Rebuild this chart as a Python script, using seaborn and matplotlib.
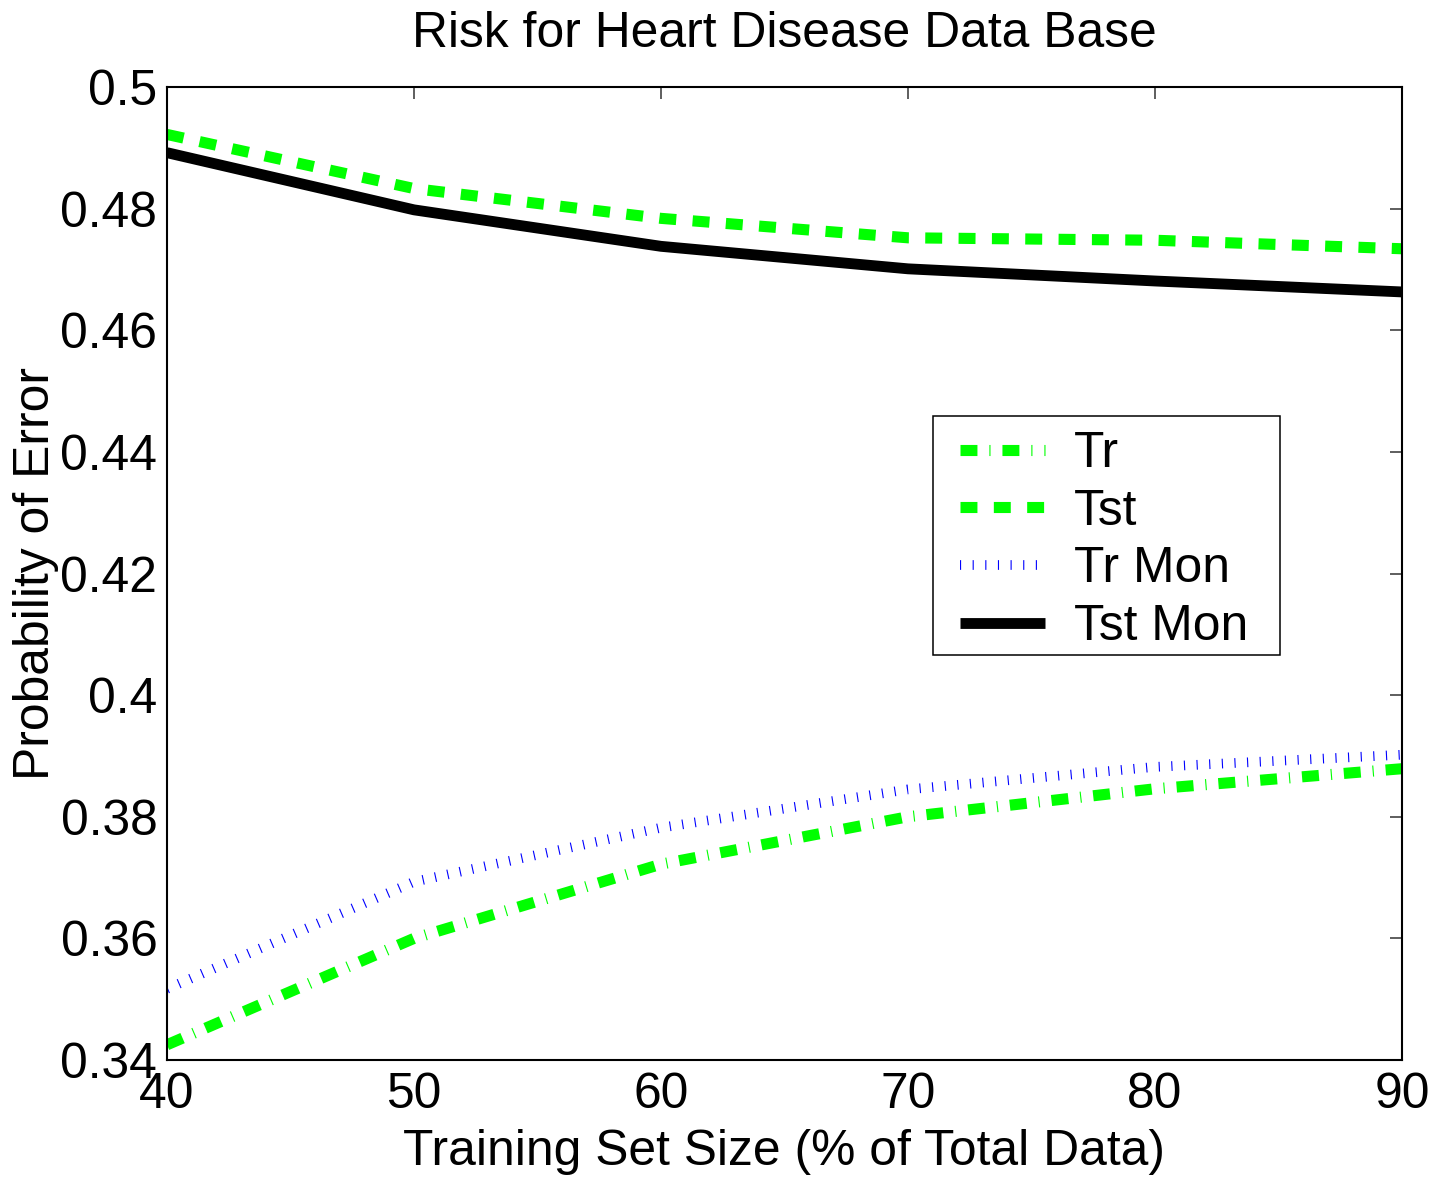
import matplotlib
matplotlib.use("Agg")
import matplotlib.pyplot as plt
from matplotlib.patches import Rectangle
import seaborn as sns
import pandas as pd

# ---- data ----
train_size = [40, 50, 60, 70, 80, 90]
tr = [0.3425, 0.3600, 0.3722, 0.3800, 0.3846, 0.3879]
tst = [0.4922, 0.4833, 0.4784, 0.4752, 0.4748, 0.4734]
tr_mon = [0.3517, 0.3693, 0.3782, 0.3845, 0.3882, 0.3902]
tst_mon = [0.4892, 0.4798, 0.4738, 0.4701, 0.4681, 0.4663]
series_names = ["Tr", "Tst", "Tr Mon", "Tst Mon"]
x_ticks = [40, 50, 60, 70, 80, 90]
y_ticks = [0.34, 0.36, 0.38, 0.40, 0.42, 0.44, 0.46, 0.48, 0.50]
y_tick_labels = ["0.34", "0.36", "0.38", "0.4", "0.42", "0.44", "0.46", "0.48", "0.5"]

sns.set_theme(style="white")
plt.rcParams["font.family"] = ["Liberation Sans", "DejaVu Sans"]
plt.rcParams["lines.scale_dashes"] = False
plt.rcParams["lines.dash_capstyle"] = "butt"
plt.rcParams["lines.solid_capstyle"] = "butt"

FS = 35.8
W, H = 1447, 1177
fig = plt.figure(figsize=(W / 100, H / 100), dpi=100)
L, R, T, B = 167, 1402, 87, 1060
ax = fig.add_axes([L / W, 1 - B / H, (R - L) / W, (B - T) / H])

df = pd.DataFrame({"size": train_size, "Tr": tr, "Tst": tst,
                   "Tr Mon": tr_mon, "Tst Mon": tst_mon})

styles = {
    "Tr": dict(color="#00ff00", linewidth=8.0, linestyle=(0, (12.2, 8.6, 0.8, 8.6))),
    "Tst": dict(color="#00ff00", linewidth=8.0, linestyle=(0, (12.2, 11.8))),
    "Tr Mon": dict(color="#0000ff", linewidth=7.0, linestyle=(0, (0.8, 8.3))),
    "Tst Mon": dict(color="black", linewidth=7.8, linestyle="-"),
}
for name in series_names:
    sns.lineplot(data=df, x="size", y=name, ax=ax, label=name, **styles[name])

ax.set_xlim(40, 90)
ax.set_ylim(0.34, 0.50)
ax.set_xticks(x_ticks)
ax.set_xticklabels([str(v) for v in x_ticks])
ax.set_yticks(y_ticks)
ax.set_yticklabels(y_tick_labels)
ax.tick_params(axis="both", which="both", direction="in", length=8.6, width=1.1,
               color="#333333", top=True, right=True, labelsize=FS, labelcolor="black")
ax.tick_params(axis="x", pad=8.5)
ax.tick_params(axis="y", pad=7)
for sp in ax.spines.values():
    sp.set_visible(True)
    sp.set_color("black")
    sp.set_linewidth(1.5)

ax.set_title("Risk for Heart Disease Data Base", fontsize=FS, pad=29, color="black")
ax.set_xlabel("Training Set Size (% of Total Data)", fontsize=FS, labelpad=8, color="black")
ax.set_ylabel("Probability of Error", fontsize=FS, labelpad=1, color="black")


def axx(px):
    return (px - L) / (R - L)


def axy(py):
    return (B - py) / (B - T)


leg = ax.legend(loc="upper left", bbox_to_anchor=(axx(953), axy(424)),
                borderaxespad=0, borderpad=0.14, frameon=False, fontsize=FS,
                handlelength=1.72, handletextpad=0.57, labelspacing=0.235)
for t in leg.get_texts():
    t.set_color("black")
ax.add_patch(Rectangle((axx(933), axy(655)), axx(1280) - axx(933), axy(416) - axy(655),
                       transform=ax.transAxes, fill=True, facecolor="white",
                       edgecolor="black", linewidth=1.1, zorder=4))
leg.set_zorder(5)

fig.savefig("out.png", dpi=100)
